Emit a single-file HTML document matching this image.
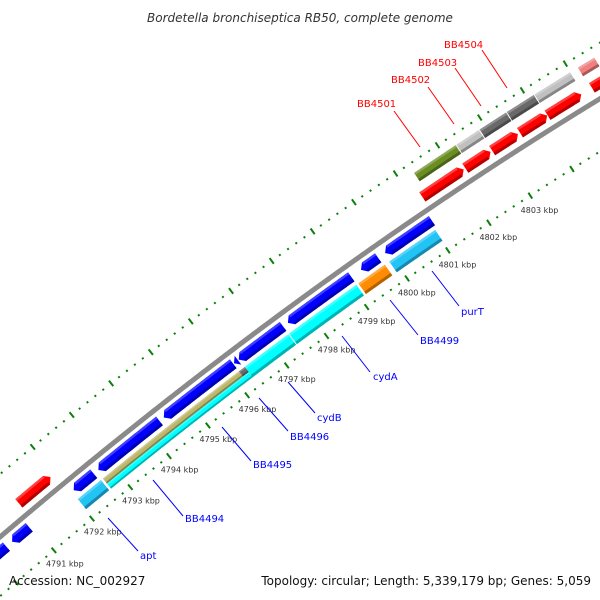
<!DOCTYPE html>
<html><head><meta charset="utf-8"><style>
html,body{margin:0;padding:0;background:#fff;}
svg{display:block;font-family:"DejaVu Sans","Liberation Sans",sans-serif;}
</style></head><body>
<svg id="map" width="600" height="600" viewBox="0 0 600 600" xmlns="http://www.w3.org/2000/svg">
<rect x="0" y="0" width="600" height="600" fill="#fff"/>
<g id="ticks"></g>
<path id="backbone" fill="none" stroke="#8a8a8a" stroke-width="5"/>
<g id="features"></g>
<g id="ticklabels" font-size="8" fill="#333" text-anchor="middle"></g>
<g font-size="10" fill="#0000ff" stroke-width="1">
  <line x1="108" y1="518" x2="138" y2="551" stroke="#0000ff"/>
  <text x="140" y="559">apt</text>
  <line x1="153" y1="480" x2="183" y2="516" stroke="#0000ff"/>
  <text x="185" y="522">BB4494</text>
  <line x1="222" y1="427" x2="251" y2="461" stroke="#0000ff"/>
  <text x="253" y="468">BB4495</text>
  <line x1="259" y1="398" x2="288" y2="431" stroke="#0000ff"/>
  <text x="290" y="440">BB4496</text>
  <line x1="288" y1="382" x2="315" y2="413" stroke="#0000ff"/>
  <text x="317" y="421">cydB</text>
  <line x1="342" y1="336" x2="370" y2="372" stroke="#0000ff"/>
  <text x="373" y="380">cydA</text>
  <line x1="390" y1="300" x2="418" y2="335" stroke="#0000ff"/>
  <text x="420" y="344">BB4499</text>
  <line x1="432" y1="271" x2="459" y2="306" stroke="#0000ff"/>
  <text x="461" y="315">purT</text>
</g>
<g font-size="10" fill="#ff0000">
  <line x1="394" y1="111" x2="420" y2="147" stroke="#ff0000"/>
  <text x="357" y="107">BB4501</text>
  <line x1="428" y1="87" x2="454" y2="124" stroke="#ff0000"/>
  <text x="391" y="83">BB4502</text>
  <line x1="455" y1="68" x2="481" y2="106" stroke="#ff0000"/>
  <text x="418" y="66">BB4503</text>
  <line x1="482" y1="50" x2="507" y2="88" stroke="#ff0000"/>
  <text x="444" y="48">BB4504</text>
</g>
<text x="300" y="22" font-size="12" font-style="italic" fill="#333" text-anchor="middle">Bordetella bronchiseptica RB50, complete genome</text>
<text x="9" y="585" font-size="12" fill="#111">Accession: NC_002927</text>
<text x="591" y="585" font-size="12" fill="#111" text-anchor="end">Topology: circular; Length: 5,339,179 bp; Genes: 5,059</text>
</svg>
<script>
// ---- data (kbp) ----
const featureStart = [4789.80, 4790.47, 4792.08, 4792.72, 4794.40, 4796.18, 4796.30, 4797.53, 4799.34, 4799.93,
  4792.03, 4792.68, 4796.16, 4792.68, 4796.31, 4797.42, 4799.14, 4799.90,
  4791.07, 4801.18, 4802.21, 4802.85, 4803.51, 4804.16, 4805.20,
  4801.31, 4802.32, 4802.87, 4803.51, 4804.16, 4805.17];
const featureEnd = [4790.32, 4790.92, 4792.60, 4794.29, 4796.16, 4796.28, 4797.41, 4799.10, 4799.76, 4801.07,
  4792.63, 4796.16, 4796.31, 4796.31, 4797.40, 4799.09, 4799.79, 4801.02,
  4791.89, 4802.17, 4802.81, 4803.46, 4804.15, 4804.95, 4806.20,
  4802.30, 4802.85, 4803.49, 4804.14, 4804.99, 4805.55];
const featureDir = [-1,-1,-1,-1,-1,-1,-1,-1,-1,-1, 0,0,0,0,0,0,0,0, 1,1,1,1,1,1,1, 0,0,0,0,0,0];
const featureSlot = ["in1","in1","in1","in1","in1","in1","in1","in1","in1","in1",
  "in2","in2a","in2a","in2b","in2","in2","in2","in2",
  "out1","out1","out1","out1","out1","out1","out1",
  "out2","out2","out2","out2","out2","out2"];
const featureColor = ["#0000ff","#0000ff","#0000ff","#0000ff","#0000ff","#0000ff","#0000ff","#0000ff","#0000ff","#0000ff",
  "#22c4f5","#bdb76b","#696969","#00ffff","#00ffff","#00ffff","#ff8c00","#22c4f5",
  "#ff0000","#ff0000","#ff0000","#ff0000","#ff0000","#ff0000","#ff0000",
  "#6b8e23","#c0c0c0","#696969","#696969","#c0c0c0","#f08080"];
const tickLabelKbp = [4791,4792,4793,4794,4795,4796,4797,4798,4799,4800,4801,4802,4803];
const tickRangeKbp = [4789, 4807];

// ---- geometry ----
const PX_PER_KBP = 50, REF_KBP = 4798, REF_X = 300;
const SLOTS = {out2:[-38,-28], out1:[-19,-8], in1:[6,17], in2:[21,34], in2a:[21,27.5], in2b:[27.5,34]};
const RING_OUT = -48, RING_IN = 45, LABEL_T = 62;
function yb(x){return 537-0.8517*x+0.000202*x*x;}
function dyb(x){return -0.8517+0.000404*x;}
const TX=[], TS=[];
(function(){let s=0;for(let x=-250;x<=850;x+=0.5){if(TX.length){s+=0.5*Math.hypot(1,dyb(x-0.25));}TX.push(x);TS.push(s);}})();
function sAtX(x){let i=Math.round((x+250)/0.5);return TS[Math.max(0,Math.min(TS.length-1,i))];}
const SREF = sAtX(REF_X);
function xAtS(s){let lo=0,hi=TS.length-1;while(hi-lo>1){const m=(lo+hi)>>1;if(TS[m]<s)lo=m;else hi=m;}
  const f=(s-TS[lo])/((TS[hi]-TS[lo])||1);return TX[lo]+f*(TX[hi]-TX[lo]);}
function pt(k,t){const x=xAtS(SREF+(k-REF_KBP)*PX_PER_KBP);const m=dyb(x);const n=Math.hypot(1,m);
  return [x+t*(-m/n), yb(x)+t*(1/n)];}
const NS="http://www.w3.org/2000/svg";
function f2(p){return p[0].toFixed(2)+","+p[1].toFixed(2);}
function edge(a,b,t){const n=Math.max(2,Math.ceil(Math.abs(b-a)/0.04));const out=[];
  for(let i=0;i<=n;i++){out.push(pt(a+(b-a)*i/n,t));}return out;}
function shade(hex,f){const c=[1,3,5].map(i=>parseInt(hex.substr(i,2),16));
  const r=c.map(v=>Math.round(f>0?v+(255-v)*f:v*(1+f)));return "rgb("+r.join(",")+")";}

// backbone
(function(){const pts=edge(4788,4808,0);document.getElementById("backbone").setAttribute("d","M"+pts.map(f2).join("L"));})();

// ticks
(function(){const g=document.getElementById("ticks");
  for(let i=Math.round(tickRangeKbp[0]*5);i<=Math.round(tickRangeKbp[1]*5);i++){
    const k=i/5, major=(i%5===0);
    [RING_OUT,RING_IN].forEach(function(r){
      const h=major?3.5:1;const a=pt(k,r-h),b=pt(k,r+h);
      const l=document.createElementNS(NS,"line");
      
      
      l.setAttribute("x1",a[0]);l.setAttribute("y1",a[1]);l.setAttribute("x2",b[0]);l.setAttribute("y2",b[1]);
      l.setAttribute("stroke","#0a800a");l.setAttribute("stroke-width","2");
      g.appendChild(l);});
  }
  const tl=document.getElementById("ticklabels");
  tickLabelKbp.forEach(function(k){const p=pt(k,LABEL_T);const t=document.createElementNS(NS,"text");
    
    
    t.setAttribute("x",p[0]);t.setAttribute("y",p[1]+3);t.textContent=k+" kbp";tl.appendChild(t);});
})();

// features
(function(){const g=document.getElementById("features");const TIP=0.1;
  for(let i=0;i<featureStart.length;i++){
    const k0=featureStart[i],k1=featureEnd[i],d=featureDir[i],sl=SLOTS[featureSlot[i]];
    const t0=sl[0],t1=sl[1],mid=(t0+t1)/2;
    let a=k0,b=k1;
    if(d===1)b=Math.max(k0,k1-TIP); if(d===-1)a=Math.min(k1,k0+TIP);
    let pts=edge(a,b,t0);
    if(d===1)pts.push(pt(k1,mid));
    pts=pts.concat(edge(b,a,t1));
    if(d===-1)pts.push(pt(k0,mid));
    const grp=document.createElementNS(NS,"g");
    
    
    const p=document.createElementNS(NS,"path");
    
    
    p.setAttribute("d","M"+pts.map(f2).join("L")+"Z");p.setAttribute("fill",featureColor[i]);grp.appendChild(p);
    const h=t1-t0, bw=Math.min(3,h*0.28);
    const hi=edge(a,b,t0).concat(edge(b,a,t0+bw*0.8));
    const ph=document.createElementNS(NS,"path");
    
    
    ph.setAttribute("d","M"+hi.map(f2).join("L")+"Z");ph.setAttribute("fill",shade(featureColor[i],0.25));grp.appendChild(ph);
    const lo=edge(a,b,t1-bw).concat(edge(b,a,t1));
    const pl=document.createElementNS(NS,"path");
    
    
    pl.setAttribute("d","M"+lo.map(f2).join("L")+"Z");pl.setAttribute("fill",shade(featureColor[i],-0.3));grp.appendChild(pl);
    g.appendChild(grp);
  }
})();
</script>
</body></html>
